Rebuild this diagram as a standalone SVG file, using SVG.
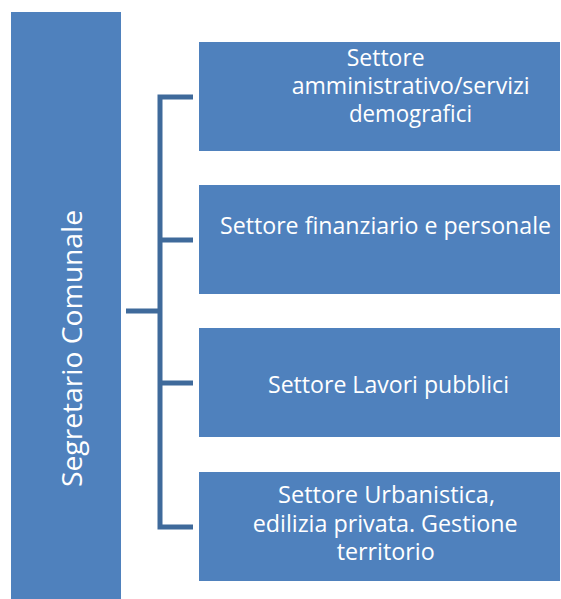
<svg xmlns="http://www.w3.org/2000/svg" width="561" height="599" viewBox="0 0 561 599">
<style>
.box{fill:#4F81BD;}
.t{font-family:"Open Sans","Liberation Sans",sans-serif;font-size:23px;fill:#FFFFFF;}
.tv{font-family:"Open Sans","Liberation Sans",sans-serif;font-size:28px;fill:#FFFFFF;}
.conn{stroke:#3F6A9B;stroke-width:5;fill:none;}
</style>
<rect width="561" height="599" fill="#FFFFFF"/>
<g id="connectors">
<path class="conn" d="M126,311 H160 M193,97 H160 V527 H193 M160,240 H193 M160,383 H193"/>
</g>
<g id="segretario">
<rect class="box" x="11" y="12" width="110" height="587"/>
<text class="tv" transform="translate(82,348.5) rotate(-90)" text-anchor="middle" textLength="277" lengthAdjust="spacingAndGlyphs">Segretario Comunale</text>
</g>
<g id="settore1">
<rect class="box" x="199" y="42" width="361" height="109"/>
<text class="t" x="346.7" y="66" textLength="78" lengthAdjust="spacingAndGlyphs">Settore</text>
<text class="t" x="291.7" y="94" textLength="238" lengthAdjust="spacingAndGlyphs">amministrativo/servizi</text>
<text class="t" x="349" y="122" textLength="123" lengthAdjust="spacingAndGlyphs">demografici</text>
</g>
<g id="settore2">
<rect class="box" x="199" y="185" width="361" height="109"/>
<text class="t" x="220" y="233.5" textLength="331" lengthAdjust="spacingAndGlyphs">Settore finanziario e personale</text>
</g>
<g id="settore3">
<rect class="box" x="199" y="328" width="361" height="109"/>
<text class="t" x="268" y="393.3" textLength="241" lengthAdjust="spacingAndGlyphs">Settore Lavori pubblici</text>
</g>
<g id="settore4">
<rect class="box" x="199" y="472" width="361" height="109"/>
<text class="t" x="278" y="503" textLength="217" lengthAdjust="spacingAndGlyphs">Settore Urbanistica,</text>
<text class="t" x="252.7" y="531.7" textLength="265" lengthAdjust="spacingAndGlyphs">edilizia privata. Gestione</text>
<text class="t" x="336.7" y="560" textLength="98" lengthAdjust="spacingAndGlyphs">territorio</text>
</g>
</svg>
